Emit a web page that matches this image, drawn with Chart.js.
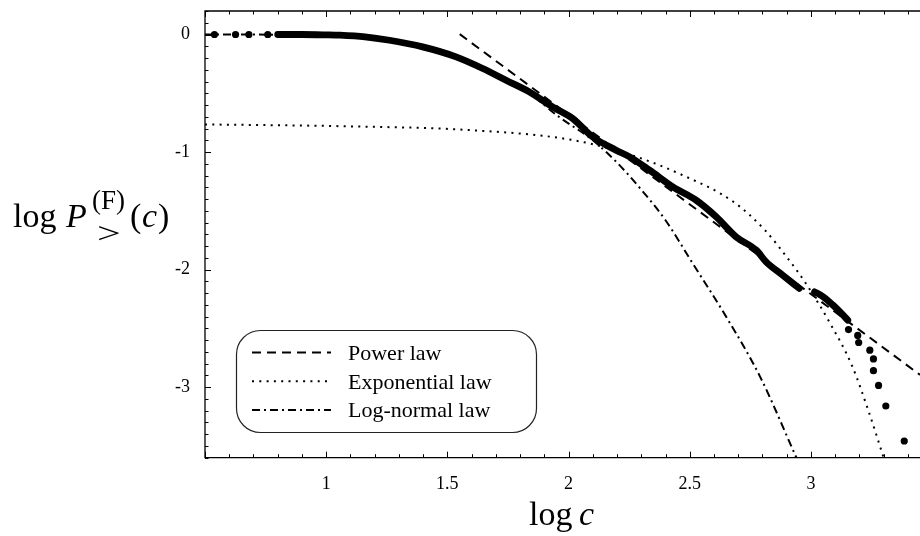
<!DOCTYPE html>
<html>
<head>
<meta charset="utf-8">
<script src="https://cdn.jsdelivr.net/npm/chart.js@4.4.1/dist/chart.umd.min.js"></script>
<style>
  html, body { margin: 0; padding: 0; background: #fff; }
  #wrap { width: 920px; height: 536px; }
</style>
</head>
<body>
<div id="wrap"><canvas id="chart" width="920" height="536"></canvas></div>
<script>
/* ---------- data ---------- */
const xTicks = [1, 1.5, 2, 2.5, 3];
const xTickLabels = ['1', '1.5', '2', '2.5', '3'];
const yTicks = [0, -1, -2, -3];
const yTickLabels = ['0', '-1', '-2', '-3'];

// empirical distribution, dense part (drawn as a thick trace)
const empDenseX = [0.80, 0.90, 1.00, 1.056, 1.16, 1.261, 1.398, 1.536, 1.646, 1.742, 1.838, 1.934,
  2.017, 2.099, 2.196, 2.252, 2.334, 2.430, 2.526, 2.609, 2.691, 2.774, 2.815, 2.883, 2.952,
  null, 3.015, 3.05, 3.09, 3.12, 3.152];
const empDenseY = [0, 0, -0.003, -0.006, -0.02, -0.049, -0.105, -0.19, -0.289, -0.389, -0.488, -0.616,
  -0.714, -0.871, -0.984, -1.041, -1.154, -1.296, -1.409, -1.551, -1.721, -1.834, -1.934, -2.047, -2.16,
  null, -2.189, -2.23, -2.30, -2.36, -2.43];
// empirical distribution, isolated points
const empSparseX = [0.539, 0.626, 0.681, 0.759, 3.155, 3.193, 3.197, 3.243, 3.258, 3.258, 3.279, 3.309, 3.385];
const empSparseY = [0, 0, 0, 0, -2.51, -2.56, -2.62, -2.685, -2.76, -2.86, -2.985, -3.16, -3.458];

// fitted laws
const powerX = [1.551, 3.45];
const powerY = [0.003, -2.895];
const expoX = [0.5, 1.06, 1.6, 2.02, 2.26, 2.47, 2.68, 2.81, 2.92, 2.98, 3.08, 3.17, 3.24, 3.30];
const expoY = [-0.765, -0.78, -0.814, -0.899, -1.026, -1.196, -1.423, -1.664, -1.947, -2.12, -2.46, -2.82, -3.218, -3.6];
const lognX = [0.5, 0.8, 1.0, 1.2, 1.4, 1.6, 1.8, 1.96, 2.10, 2.20, 2.30, 2.40, 2.51, 2.65, 2.79, 2.94];
const lognY = [0, -0.002, -0.01, -0.04, -0.11, -0.24, -0.44, -0.70, -0.90, -1.09, -1.32, -1.58, -1.94, -2.40, -2.91, -3.6];

const SERIF = '"Liberation Serif", "DejaVu Serif", serif';

function pts(xs, ys) {
  return xs.map((x, i) => (x === null ? { x: null, y: null } : { x, y: ys[i] }));
}

/* ---------- inward ticks + frame ---------- */
const framePlugin = {
  id: 'frame',
  afterDraw(chart) {
    const { ctx, chartArea: a, scales: { x, y } } = chart;
    ctx.save();
    ctx.strokeStyle = '#000';
    ctx.lineWidth = 1.3;
    ctx.beginPath();
    ctx.moveTo(a.right, a.top); ctx.lineTo(a.left, a.top);
    ctx.lineTo(a.left, a.bottom); ctx.lineTo(a.right, a.bottom);
    ctx.stroke();

    ctx.lineWidth = 1;
    ctx.beginPath();
    for (let i = 5; i <= 34; i++) {
      const v = i / 10;
      const px = Math.round(x.getPixelForValue(v)) + 0.5;
      const len = (i % 5 === 0) ? 6 : 3.5;
      ctx.moveTo(px, a.bottom); ctx.lineTo(px, a.bottom - len);
      ctx.moveTo(px, a.top); ctx.lineTo(px, a.top + len);
    }
    for (let i = -36; i <= 2; i++) {
      const v = i / 10;
      const py = Math.round(y.getPixelForValue(v)) + 0.5;
      const len = (i % 10 === 0) ? 6 : 3.5;
      ctx.moveTo(a.left, py); ctx.lineTo(a.left + len, py);
    }
    ctx.stroke();
    ctx.restore();
  }
};

/* ---------- axis titles (math style) ---------- */
const titlePlugin = {
  id: 'mathTitles',
  afterDraw(chart) {
    const ctx = chart.ctx;
    ctx.save();
    ctx.fillStyle = '#000';
    ctx.textBaseline = 'alphabetic';
    ctx.textAlign = 'left';
    // y title: log P_>^(F)(c)
    ctx.font = `34px ${SERIF}`;
    ctx.fillText('log', 13, 227);
    ctx.font = `italic 34px ${SERIF}`;
    ctx.fillText('P', 66, 227);
    ctx.font = `27px ${SERIF}`;
    ctx.fillText('(F)', 92, 209);
    // wide "greater than" like the TeX glyph
    ctx.save();
    ctx.translate(97, 243);
    ctx.scale(1.4, 1);
    ctx.font = `30px ${SERIF}`;
    ctx.fillText('>', 0, 0);
    ctx.restore();
    ctx.font = `34px ${SERIF}`;
    ctx.fillText('(', 130, 227);
    ctx.font = `italic 34px ${SERIF}`;
    ctx.fillText('c', 142, 227);
    ctx.font = `34px ${SERIF}`;
    ctx.fillText(')', 158, 227);
    // x title: log c
    ctx.font = `34px ${SERIF}`;
    ctx.fillText('log', 529, 525);
    ctx.font = `italic 34px ${SERIF}`;
    ctx.fillText('c', 579, 525);
    ctx.restore();
  }
};

/* ---------- legend in rounded box ---------- */
const legendPlugin = {
  id: 'boxLegend',
  afterDraw(chart) {
    const ctx = chart.ctx;
    const box = { x: 236.5, y: 330.5, w: 300, h: 102, r: 24 };
    ctx.save();
    ctx.fillStyle = '#fff';
    ctx.strokeStyle = '#222';
    ctx.lineWidth = 1.2;
    ctx.beginPath();
    ctx.roundRect(box.x, box.y, box.w, box.h, box.r);
    ctx.fill();
    ctx.stroke();

    const rows = chart.data.datasets.filter(d => d.label);
    rows.forEach((d, i) => {
      const yy = 352.5 + i * 28.7;
      ctx.strokeStyle = '#000';
      ctx.lineWidth = d.borderWidth;
      ctx.setLineDash(d.borderDash || []);
      ctx.beginPath();
      ctx.moveTo(252, yy); ctx.lineTo(331, yy);
      ctx.stroke();
      ctx.setLineDash([]);
      ctx.fillStyle = '#000';
      ctx.font = `22px ${SERIF}`;
      ctx.textBaseline = 'alphabetic';
      ctx.fillText(d.label, 348, yy + 7.5);
    });
    ctx.restore();
  }
};

function noPad(s) {
  s.paddingTop = 0; s.paddingBottom = 0; s.paddingLeft = 0; s.paddingRight = 0;
}

new Chart(document.getElementById('chart'), {
  type: 'scatter',
  data: {
    datasets: [
      { data: pts(empSparseX, empSparseY), showLine: false, pointRadius: 3.6,
        pointBackgroundColor: '#000', pointBorderWidth: 0 },
      { data: pts(empDenseX, empDenseY), showLine: true, spanGaps: false, borderColor: '#000',
        borderWidth: 6.8, pointRadius: 0, borderCapStyle: 'round', borderJoinStyle: 'round',
        cubicInterpolationMode: 'monotone' },
      { label: 'Power law', data: pts(powerX, powerY), showLine: true, borderColor: '#000',
        borderWidth: 2, borderDash: [9, 6], pointRadius: 0 },
      { label: 'Exponential law', data: pts(expoX, expoY), showLine: true, borderColor: '#000',
        borderWidth: 2, borderDash: [2, 5.3], pointRadius: 0, cubicInterpolationMode: 'monotone' },
      { label: 'Log-normal law', data: pts(lognX, lognY), showLine: true, borderColor: '#000',
        borderWidth: 2, borderDash: [8, 4, 2, 4], pointRadius: 0, cubicInterpolationMode: 'monotone' }
    ]
  },
  options: {
    responsive: false,
    animation: false,
    layout: { autoPadding: false, padding: { top: 11, right: 0, left: 0, bottom: 0 } },
    plugins: { legend: { display: false }, tooltip: { enabled: false } },
    scales: {
      x: {
        type: 'linear', min: 0.5, max: 3.45,
        grid: { display: false, drawTicks: false }, border: { display: false },
        afterBuildTicks: s => { s.ticks = xTicks.map(v => ({ value: v })); },
        afterFit: s => { s.height = 78.3; noPad(s); },
        ticks: {
          autoSkip: false, maxRotation: 0, padding: 16, color: '#000',
          font: { family: SERIF, size: 18 },
          callback: (v) => xTickLabels[xTicks.indexOf(v)]
        }
      },
      y: {
        type: 'linear', min: -3.6, max: 0.2,
        grid: { display: false, drawTicks: false }, border: { display: false },
        afterBuildTicks: s => { s.ticks = yTicks.map(v => ({ value: v })); },
        afterFit: s => { s.width = 205; noPad(s); },
        ticks: {
          autoSkip: false, padding: 15, color: '#000',
          font: { family: SERIF, size: 18 },
          callback: (v) => yTickLabels[yTicks.indexOf(v)]
        }
      }
    }
  },
  plugins: [framePlugin, titlePlugin, legendPlugin]
});
</script>
</body>
</html>
